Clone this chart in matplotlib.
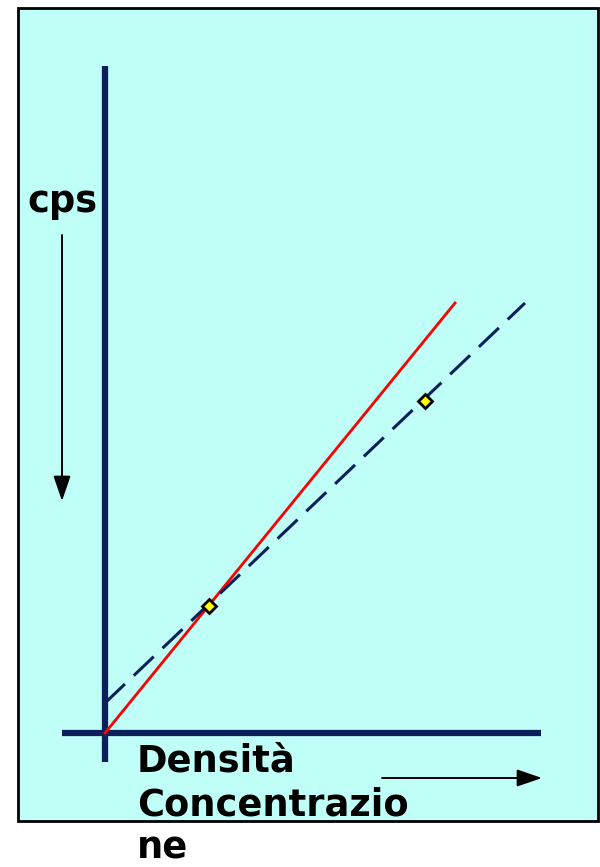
import matplotlib
matplotlib.use("Agg")
import matplotlib.pyplot as plt
from matplotlib.patches import Rectangle, FancyArrowPatch

# ---- data (arbitrary units, origin at axis crossing) ----
red_x = [0, 350]
red_y = [0, 430]
dash_x = [0, 420]
dash_y = [30, 430]
point_x = [104, 320]
point_y = [127, 332]
ylabel_text = "cps"
xlabel_text = "Densità\nConcentrazio\nne"

fig = plt.figure(figsize=(6.0, 8.67), dpi=100)
ax = fig.add_axes([0, 0, 1, 1])
ax.set_xlim(-105, 495)
ax.set_ylim(-134, 733)
ax.axis("off")

navy = "#0b1f5a"
# background box
ax.add_patch(Rectangle((-87, -88), 580, 813, facecolor="#bffff8",
                       edgecolor="black", linewidth=2, zorder=0))

# axes lines
ax.plot([0, 0], [-29, 667], color=navy, linewidth=4.5, solid_capstyle="butt", zorder=2)
ax.plot([-43, 436], [0, 0], color=navy, linewidth=4.5, solid_capstyle="butt", zorder=2)

# lines
ax.plot(red_x, red_y, color="#ff0000", linewidth=2, zorder=3)
ax.plot(dash_x, dash_y, color=navy, linewidth=2.2, dashes=(9, 4), zorder=3)
ax.plot(point_x, point_y, linestyle="none", marker="D", markersize=7,
        markerfacecolor="#ffff00", markeredgecolor="black", markeredgewidth=2, zorder=4)

# arrows
astyle = "-|>,head_length=7,head_width=2.4"
ax.add_patch(FancyArrowPatch((-43, 498), (-43, 232), arrowstyle=astyle,
                             color="black", linewidth=1.4, mutation_scale=2.2,
                             shrinkA=0, shrinkB=0, zorder=3))
ax.add_patch(FancyArrowPatch((277, -45), (437, -45), arrowstyle=astyle,
                             color="black", linewidth=1.4, mutation_scale=2.2,
                             shrinkA=0, shrinkB=0, zorder=3))

# texts
ax.text(-43, 532, ylabel_text, fontsize=26.5, fontweight="bold", ha="center", va="center",
        family="DejaVu Sans", zorder=5)
ax.text(32, -10, xlabel_text, fontsize=26.5, fontweight="bold", ha="left", va="top",
        family="DejaVu Sans", linespacing=1.22, zorder=5)

fig.savefig("out.png", dpi=100)
